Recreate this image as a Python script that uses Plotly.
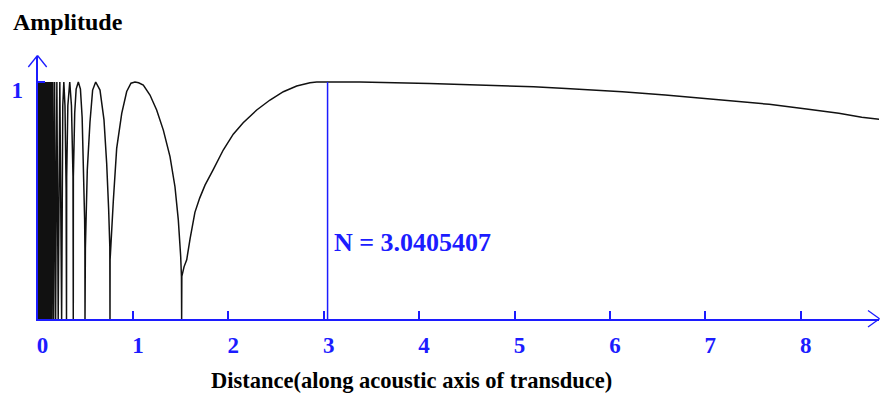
import plotly.graph_objects as go

# ---------------- data ----------------
N_value = 3.0405407

# dense near-field region: alternating zeros and peaks
dense_distance = [
    0.002, 0.0045, 0.006, 0.0075, 0.009, 0.0105, 0.012, 0.0135, 0.015, 0.0165,
    0.018, 0.0195, 0.021, 0.0225, 0.024, 0.0255, 0.027, 0.0285, 0.030, 0.0315,
    0.033, 0.0345, 0.036, 0.0375, 0.039, 0.0405, 0.042, 0.0435, 0.045, 0.0465,
    0.048, 0.0495, 0.051, 0.0525, 0.054, 0.0555, 0.057, 0.0585, 0.060, 0.0615,
    0.063, 0.0645, 0.066, 0.0675, 0.069, 0.0705, 0.072, 0.074, 0.076, 0.078,
    0.080, 0.082, 0.084, 0.0865, 0.089, 0.092, 0.095, 0.098, 0.101, 0.105,
    0.109, 0.113, 0.117, 0.122, 0.127, 0.132, 0.138, 0.145, 0.152, 0.160,
    0.169, 0.179, 0.190, 0.203, 0.217, 0.234, 0.253,
]
dense_amplitude = [
    0.0, 1.0, 0.0, 1.0, 0.0, 1.0, 0.0, 1.0, 0.0, 1.0,
    0.0, 1.0, 0.0, 1.0, 0.0, 1.0, 0.0, 1.0, 0.0, 1.0,
    0.0, 1.0, 0.0, 1.0, 0.0, 1.0, 0.0, 1.0, 0.0, 1.0,
    0.0, 1.0, 0.0, 1.0, 0.0, 1.0, 0.0, 1.0, 0.0, 1.0,
    0.0, 1.0, 0.0, 1.0, 0.0, 1.0, 0.0, 1.0, 0.0, 1.0,
    0.0, 1.0, 0.0, 1.0, 0.0, 1.0, 0.0, 1.0, 0.0, 1.0,
    0.0, 1.0, 0.0, 1.0, 0.0, 1.0, 0.0, 1.0, 0.0, 1.0,
    0.0, 1.0, 0.0, 1.0, 0.0, 1.0, 0.0,
]

# outer lobes and far field
lobe_distance = [
    0.256, 0.265, 0.276, 0.288, 0.300, 0.304,
    0.306, 0.318, 0.338, 0.356, 0.372, 0.375,
    0.376, 0.390, 0.405, 0.428, 0.450, 0.468, 0.485, 0.494, 0.497, 0.498,
    0.502, 0.508, 0.522, 0.550, 0.578, 0.610, 0.655, 0.697, 0.725, 0.746, 0.758, 0.760,
    0.761, 0.795, 0.830, 0.883, 0.935, 0.980, 1.022, 1.060, 1.109, 1.179, 1.249,
    1.319, 1.389, 1.441, 1.476, 1.501, 1.509, 1.511,
    1.513, 1.536, 1.564, 1.600, 1.650, 1.700, 1.756, 1.842, 1.947, 2.052, 2.156,
    2.298, 2.437, 2.577, 2.717, 2.856, 2.927, 3.040,
    3.380, 4.110, 4.760, 5.200, 5.540, 5.840, 6.130, 6.580, 6.880, 7.170, 7.420,
    7.670, 8.060, 8.400, 8.640, 8.830,
]
lobe_amplitude = [
    0.55, 0.90, 1.0, 0.90, 0.55, 0.0,
    0.60, 0.90, 1.0, 0.90, 0.60, 0.0,
    0.60, 0.87, 0.97, 1.0, 0.97, 0.85, 0.62, 0.42, 0.30, 0.0,
    0.30, 0.40, 0.63, 0.83, 0.966, 1.0, 0.966, 0.84, 0.657, 0.46, 0.305, 0.0,
    0.25, 0.50, 0.72, 0.868, 0.96, 0.995, 1.0, 0.997, 0.987, 0.945, 0.882,
    0.797, 0.685, 0.558, 0.418, 0.263, 0.178, 0.0,
    0.18, 0.22, 0.25, 0.34, 0.45, 0.51, 0.565, 0.63, 0.713, 0.78, 0.828,
    0.882, 0.924, 0.959, 0.983, 0.997, 1.0, 1.0,
    1.0, 0.994, 0.987, 0.980, 0.973, 0.966, 0.959, 0.945, 0.934, 0.924, 0.914,
    0.906, 0.886, 0.868, 0.851, 0.842,
]

x_ticks = [0, 1, 2, 3, 4, 5, 6, 7, 8]
y_ticks = [1]

distance = dense_distance + lobe_distance
amplitude = dense_amplitude + lobe_amplitude

# ---------------- styles ----------------
BLUE = "#1c1cff"
W, H = 880, 397
x0_px, x_end_px, px_per_x = 37.5, 879.0, 95.4
y0_px, y_top_px, px_per_y = 319.0, 56.0, 237.0
serif = "Liberation Serif, Times New Roman, serif"

fig = go.Figure()
fig.add_trace(go.Scatter(
    x=distance, y=amplitude, mode="lines",
    line=dict(color="#111111", width=1.5),
    hoverinfo="skip",
))
fig.add_trace(go.Scatter(
    x=[N_value, N_value], y=[0, 1], mode="lines",
    line=dict(color=BLUE, width=1.5),
    hoverinfo="skip",
))


def px(xp):
    return xp / W


def py(yp):
    return 1 - yp / H


shapes = []
# y arrow head
for arm in [(28.3, 67.0), (46.7, 67.0)]:
    shapes.append(dict(type="line", xref="paper", yref="paper",
                       x0=px(37.5), y0=py(55.5), x1=px(arm[0]), y1=py(arm[1]),
                       line=dict(color=BLUE, width=1.3)))
# x arrow head
for arm in [(868.0, 310.5), (868.0, 327.0)]:
    shapes.append(dict(type="line", xref="paper", yref="paper",
                       x0=px(879.5), y0=py(318.7), x1=px(arm[0]), y1=py(arm[1]),
                       line=dict(color=BLUE, width=1.3)))

tickfont = dict(family=serif, size=23, color=BLUE, weight="bold")

fig.update_layout(
    width=W, height=H,
    margin=dict(l=0, r=0, t=0, b=0),
    paper_bgcolor="white", plot_bgcolor="white",
    showlegend=False,
    shapes=shapes,
    xaxis=dict(
        domain=[px(x0_px), px(x_end_px)],
        range=[0, (x_end_px - x0_px) / px_per_x],
        showgrid=False, zeroline=False,
        showline=True, linecolor=BLUE, linewidth=2,
        ticks="inside", ticklen=8, tickwidth=1.5, tickcolor=BLUE,
        tickvals=x_ticks, ticktext=[str(v) for v in x_ticks],
        tickfont=tickfont,
        ticklabelstandoff=4, ticklabelshift=5,
        fixedrange=True,
    ),
    yaxis=dict(
        domain=[py(y0_px), py(y_top_px)],
        range=[0, (y0_px - y_top_px) / px_per_y],
        showgrid=False, zeroline=False,
        showline=True, linecolor=BLUE, linewidth=2,
        ticks="inside", ticklen=7, tickwidth=1.5, tickcolor=BLUE,
        tickvals=y_ticks, ticktext=[str(v) for v in y_ticks],
        tickfont=tickfont,
        ticklabelstandoff=8, ticklabelshift=8,
        fixedrange=True,
    ),
    annotations=[
        dict(text="Amplitude", xref="paper", yref="paper",
             x=px(11), y=py(22), xanchor="left", yanchor="middle",
             showarrow=False,
             font=dict(family=serif, size=24, color="black", weight="bold")),
        dict(text="Distance(along acoustic axis of transduce)",
             xref="paper", yref="paper",
             x=px(411), y=py(380), xanchor="center", yanchor="middle",
             showarrow=False,
             font=dict(family=serif, size=22.5, color="black", weight="bold")),
        dict(text="N = " + str(N_value), xref="x", yref="y",
             x=N_value, y=(y0_px - 242) / px_per_y, xshift=4,
             xanchor="left", yanchor="middle", showarrow=False,
             font=dict(family=serif, size=26, color=BLUE, weight="bold")),
    ],
)

fig.write_html("out.html")
